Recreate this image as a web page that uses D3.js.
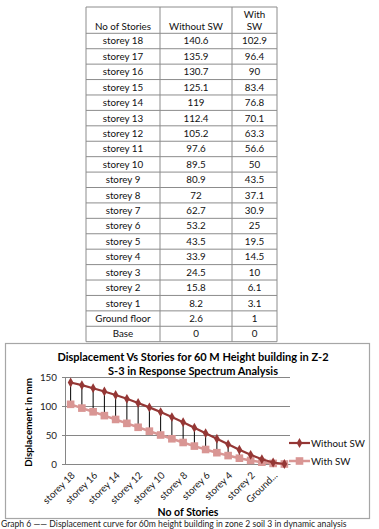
<!DOCTYPE html>
<html>
<head>
<meta charset="utf-8">
<script src="https://cdn.jsdelivr.net/npm/d3@7"></script>
<style>
  html, body { margin: 0; padding: 0; background: #fff; }
  svg { display: block; }
  text { font-family: Lato, "Open Sans", sans-serif; }
</style>
</head>
<body>
<script>
// ---- data ----
const categories = ["storey 18","storey 17","storey 16","storey 15","storey 14","storey 13","storey 12","storey 11","storey 10","storey 9","storey 8","storey 7","storey 6","storey 5","storey 4","storey 3","storey 2","storey 1","Ground floor","Base"];
const withoutSW = [140.6,135.9,130.7,125.1,119,112.4,105.2,97.6,89.5,80.9,72,62.7,53.2,43.5,33.9,24.5,15.8,8.2,2.6,0];
const withSW = [102.9,96.4,90,83.4,76.8,70.1,63.3,56.6,50,43.5,37.1,30.9,25,19.5,14.5,10,6.1,3.1,1,0];
const yTicks = [0,50,100,150];
const xTickCats = ["storey 18","storey 16","storey 14","storey 12","storey 10","storey 8","storey 6","storey 4","storey 2","Ground floor"];
const xTickText = {"Ground floor": "Ground..."};
const tableHeaders = ["No of Stories","Without SW","With SW"];
const seriesNames = ["Without SW","With SW"];

const W = 379, H = 529;
const svg = d3.select("body").append("svg").attr("width", W).attr("height", H);

// ---- table ----
const colX = [86, 160, 232, 277];
const tTop = 7, headerBottom = 33.3, rowH = 15.42;
const tbl = svg.append("g");
const nRows = categories.length;
const tBottom = headerBottom + nRows * rowH;
const lineColor = "#8c8c8c";
const hLines = [tTop, headerBottom].concat(d3.range(1, nRows + 1).map(i => headerBottom + i * rowH));
tbl.selectAll("line.h").data(hLines).join("line")
  .attr("x1", colX[0]).attr("x2", colX[3]).attr("y1", d => d).attr("y2", d => d)
  .attr("stroke", lineColor).attr("stroke-width", 1);
tbl.selectAll("line.v").data(colX).join("line").attr("class","v")
  .attr("x1", d => d).attr("x2", d => d).attr("y1", tTop).attr("y2", tBottom)
  .attr("stroke", lineColor).attr("stroke-width", 1);
const colC = [0,1,2].map(i => (colX[i] + colX[i+1]) / 2);
const tfs = 9.8;
tbl.append("text").attr("x", colC[0]).attr("y", 29.5).attr("text-anchor","middle").attr("font-size", tfs).attr("fill","#111").text(tableHeaders[0]);
tbl.append("text").attr("x", colC[1]).attr("y", 29.5).attr("text-anchor","middle").attr("font-size", tfs).attr("fill","#111").text(tableHeaders[1]);
tbl.append("text").attr("x", colC[2]).attr("y", 17.5).attr("text-anchor","middle").attr("font-size", tfs).attr("fill","#111").text(tableHeaders[2].split(" ")[0]);
tbl.append("text").attr("x", colC[2]).attr("y", 29.5).attr("text-anchor","middle").attr("font-size", tfs).attr("fill","#111").text(tableHeaders[2].split(" ")[1]);
categories.forEach((c, i) => {
  const yb = headerBottom + i * rowH + rowH / 2 + 3.4;
  [c, String(withoutSW[i]), String(withSW[i])].forEach((t, j) => {
    tbl.append("text").attr("x", colC[j]).attr("y", yb).attr("text-anchor","middle")
      .attr("font-size", tfs).attr("fill","#111").text(t);
  });
});

// ---- chart box ----
svg.append("rect").attr("x", 5.5).attr("y", 343.5).attr("width", 364).attr("height", 175)
  .attr("fill","#fff").attr("stroke","#a6a6a6").attr("stroke-width", 1.2);

// title
const title = svg.append("text").attr("x", 193).attr("y", 361).attr("text-anchor","middle")
  .attr("font-size", 11).attr("font-weight","bold").attr("fill","#000");
title.append("tspan").attr("x", 193).text("Displacement Vs Stories for 60 M Height building in Z-2");
title.append("tspan").attr("x", 193).attr("dy", 13.8).text("S-3 in Response Spectrum Analysis");

const pL = 65, pR = 290, pT = 377, pB = 464;
const x = d3.scaleBand().domain(categories).range([pL, pR]);
const cx = c => x(c) + x.bandwidth() / 2;
const y = d3.scaleLinear().domain([0, 150]).range([pB, pT]);

// y axis with gridlines
const yAxis = svg.append("g").attr("transform", `translate(${pL},0)`)
  .call(d3.axisLeft(y).tickValues(yTicks).tickSize(-(pR - pL)).tickPadding(8).tickSizeOuter(0));
yAxis.select(".domain").attr("stroke", "#868686");
yAxis.selectAll(".tick line").attr("stroke", "#868686").attr("x1", -3);
yAxis.selectAll(".tick text").attr("font-size", 9.8).attr("fill","#222").attr("font-family","Lato, sans-serif");

// x axis
const xAxis = svg.append("g").attr("transform", `translate(0,${pB})`)
  .call(d3.axisBottom(x).tickValues(xTickCats).tickSize(0).tickFormat(d => xTickText[d] || d));
xAxis.select(".domain").attr("stroke", "#868686");
xAxis.selectAll(".tick text").attr("font-size", 9.8).attr("fill","#222").attr("font-family","Lato, sans-serif")
  .attr("text-anchor","end").attr("y", 0).attr("dy", 0)
  .attr("transform", "translate(5,12) rotate(-45)");

// axis titles
svg.append("text").attr("transform", `translate(32,${(pT + pB) / 2 + 2}) rotate(-90)`)
  .attr("text-anchor","middle").attr("font-size", 9.8).attr("font-weight","bold").text("Displacement in mm");
svg.append("text").attr("x", 188).attr("y", 516).attr("text-anchor","middle")
  .attr("font-size", 10.5).attr("font-weight","bold").text("No of Stories");

// high-low lines
svg.append("g").selectAll("line").data(categories).join("line")
  .attr("x1", c => cx(c)).attr("x2", c => cx(c))
  .attr("y1", (c, i) => y(withoutSW[i])).attr("y2", (c, i) => y(withSW[i]))
  .attr("stroke", "#000").attr("stroke-width", 1);

const c1 = "#953735", c2 = "#d99694";
const line = d3.line().x((d, i) => cx(categories[i])).y(d => y(d));

// with SW series
svg.append("path").datum(withSW).attr("d", line).attr("fill","none").attr("stroke", c2).attr("stroke-width", 2.5);
svg.append("g").selectAll("rect").data(withSW).join("rect")
  .attr("x", (d, i) => cx(categories[i]) - 3.8).attr("y", d => y(d) - 3.8)
  .attr("width", 7.6).attr("height", 7.6).attr("fill", c2);

// without SW series
svg.append("path").datum(withoutSW).attr("d", line).attr("fill","none").attr("stroke", c1).attr("stroke-width", 2.2);
const diamond = d3.symbol().type(d3.symbolDiamond).size(28);
svg.append("g").selectAll("path").data(withoutSW).join("path")
  .attr("d", diamond).attr("transform", (d, i) => `translate(${cx(categories[i])},${y(d)})`)
  .attr("fill", c1);

// legend
const lg = svg.append("g");
const lx1 = 289, lx2 = 310;
[[seriesNames[0], c1, 443, "d"], [seriesNames[1], c2, 461, "s"]].forEach(([name, col, ly, m]) => {
  lg.append("line").attr("x1", lx1).attr("x2", lx2).attr("y1", ly).attr("y2", ly)
    .attr("stroke", col).attr("stroke-width", m === "d" ? 2.2 : 2.5);
  if (m === "d") {
    lg.append("path").attr("d", diamond).attr("transform", `translate(${(lx1 + lx2) / 2},${ly})`).attr("fill", col);
  } else {
    lg.append("rect").attr("x", (lx1 + lx2) / 2 - 3.8).attr("y", ly - 3.8).attr("width", 7.6).attr("height", 7.6).attr("fill", col);
  }
  lg.append("text").attr("x", 311).attr("y", ly + 3.5).attr("font-size", 9.8).attr("fill", "#111").text(name);
});

// caption at page bottom
svg.append("text").attr("x", 1).attr("y", 527).attr("font-family", "'Liberation Serif', serif")
  .attr("font-size", 8.6).attr("fill", "#222")
  .text("Graph 6 —— Displacement curve for 60m height building in zone 2 soil 3 in dynamic analysis");
</script>
</body>
</html>
